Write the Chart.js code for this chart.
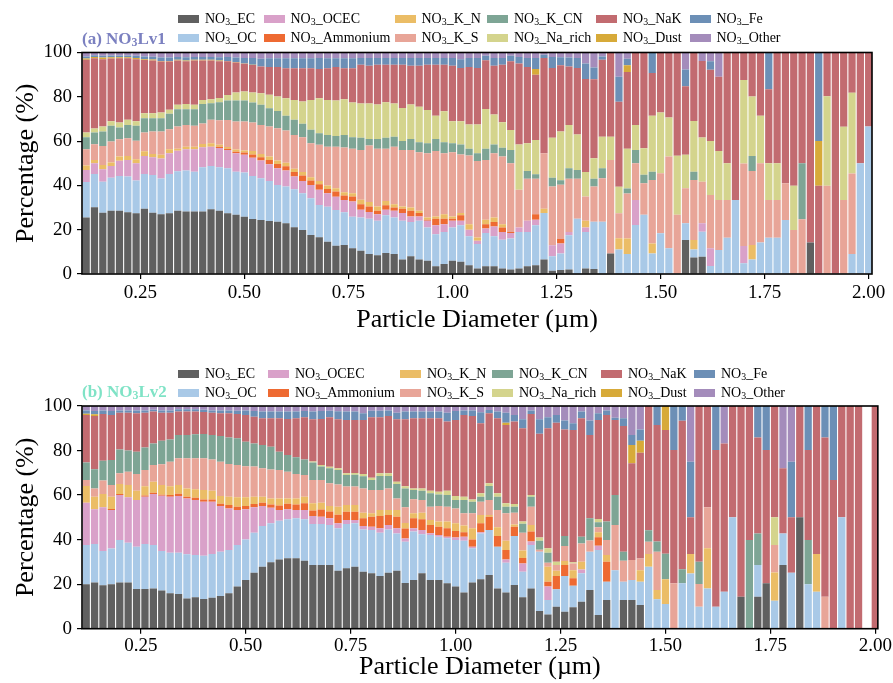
<!DOCTYPE html>
<html><head><meta charset="utf-8">
<script src="https://cdn.jsdelivr.net/npm/chart.js@4.4.1/dist/chart.umd.min.js"></script>
<style>
body{margin:0;background:#fff;width:893px;height:683px;overflow:hidden;position:relative;font-family:"Liberation Serif","Times New Roman",serif;}
canvas{position:absolute;left:0;}
.lt{position:absolute;font-size:14px;line-height:16px;white-space:nowrap;color:#000;}
.pt{position:absolute;width:21px;height:8px;}
.ttl{position:absolute;font-weight:bold;font-size:17px;line-height:20px;white-space:nowrap;}
sub{font-size:0.7em;vertical-align:-0.2em;line-height:0;}
</style></head><body>
<canvas id="c1" width="893" height="340" style="top:0"></canvas>
<canvas id="c2" width="893" height="343" style="top:340px"></canvas>
<div id="overlay"></div>
<script>
// ---------------- data ----------------
const diameters = [0.12,0.14,0.16,0.18,0.20,0.22,0.24,0.26,0.28,0.30,
0.32,0.34,0.36,0.38,0.40,0.42,0.44,0.46,0.48,0.50,
0.52,0.54,0.56,0.58,0.60,0.62,0.64,0.66,0.68,0.70,
0.72,0.74,0.76,0.78,0.80,0.82,0.84,0.86,0.88,0.90,
0.92,0.94,0.96,0.98,1.00,1.02,1.04,1.06,1.08,1.10,
1.12,1.14,1.16,1.18,1.20,1.22,1.24,1.26,1.28,1.30,
1.32,1.34,1.36,1.38,1.40,1.42,1.44,1.46,1.48,1.50,
1.52,1.54,1.56,1.58,1.60,1.62,1.64,1.66,1.68,1.70,
1.72,1.74,1.76,1.78,1.80,1.82,1.84,1.86,1.88,1.90,
1.92,1.94,1.96,1.98,2.00];
const xTickLabels = [0.25,0.50,0.75,1.00,1.25,1.50,1.75,2.00];
const yTickLabels = [0,20,40,60,80,100];
const seriesNames = ['EC','OC','OCEC','Ammonium','K_N','K_S','K_CN','Na_rich','NaK','Dust','Fe','Other'];
const seriesColors = ['#606060','#a9c9e7','#d9a1c9','#ee6a32','#ebbd66','#e8a598','#7ea595','#d4d48d','#c26b70','#d7aa39','#6c8fb6','#a48cbb'];

// NO3Lv1
const lv1_EC = [25.5,30.1,27.7,28.5,28.5,27.9,27.4,29.5,27.7,27,27.4,28.6,28.2,28.2,28.2,29.2,28.5,27.4,26.7,25.9,24.8,24.4,23.9,23.6,22.9,21.1,19.9,17.6,16.6,14.6,12.7,13.1,11.6,10.5,9,8.5,9.5,9,6.5,8,6.5,6,3.5,4.5,6,5.5,4,2.5,3.5,3.5,2.5,2,2.5,3.5,4,6.5,1.5,1.8,2,0,2.5,2.3,0,9.3,0,0,0,0,0,0,0,0,15.4,7.5,7.8,0,0,0,0,0,0,0,0,0,0,0,0,14.2,0,0,0,0,0,0,0];
const lv1_OC = [16,15.1,13.9,14.9,15.8,16.1,14.8,15.7,17,16.1,17.8,17.8,18.5,18,20,19.6,19.7,20.3,19.5,19.9,19.5,18.8,18.1,16.6,16.6,17.2,16.5,16.6,14.6,15.8,16.2,14.8,14.3,15,16,15.5,17,16.5,17.5,15.5,17.5,15,14.5,14.5,15,16.5,13,11,15,13.5,13,14,16.5,15.5,18,21,6.5,7.5,15.5,25,16.5,21.3,23.6,0,11.1,9,22.1,26.7,9.3,18.4,11.6,0,7.5,3.6,11.3,3.6,10.8,16.4,33.4,4.8,6.6,14.2,16.4,16.4,24.4,0,0,0,0,0,0,0,9,50,66.6];
const lv1_OCEC = [5.5,4.8,5.7,5.4,6.8,7.5,7.8,8.1,8,9,9.3,9.2,9.6,10.1,9,8.7,8.7,8.3,8.3,8,8.2,8,7.5,7.5,7.2,5.7,5.6,6,6.8,6,6,5.5,6.8,3.5,3,3,2.5,3,3.5,2.5,2,3,4,3.5,3,2,3,1.5,2,4.5,3.5,2.5,2,5,2.5,0,5,4.5,1.5,0,2,0,0,0,0,0,11.3,0,0,0,0,0,0,0,3.8,8,0,0,0,7.8,0,0,0,0,0,0,0,0,0,0,0,0,0,0,0];
const lv1_Ammonium = [0,0,0,0,0,0,0,0,0,0,0,0,0,0,0,0,0.5,0.5,0.7,1,1.5,1.5,2,2,2,2,2.5,2,2.5,2,2.3,2,2.3,2.5,2.5,1.5,2,1.5,2,2.5,1.5,0.5,3,2.5,1,2.5,0,0,2,2,2,0.5,0,0,2.5,0,0,2,0,0,0,0,0,0,0,0,0,0,0,0,0,0,0,0,0,0,0,0,0,0,0,0,0,0,0,0,0,0,0,0,0,0,0,0,0];
const lv1_K_N = [2,1.5,1.9,1.5,1.9,1.8,1.8,2.1,1.5,1.7,1.8,1,1.2,1.2,1.5,1.5,1,0.8,1,1,1.5,1.5,1.5,1.5,1.5,1.5,1.5,1.5,1.5,1.5,1.5,1.5,1.5,2,2,2,2,1.5,1,1.5,1,1,1,2,1,1,2.5,1.5,2,2,1.5,0,0,0,0,2,0,0,0,0,3,0,0,0,5,7,0,0,4.5,0,0,0,0,4.2,0,0,0,0,0,0,6.5,0,0,0,0,0,0,0,0,0,0,0,0,0,0];
const lv1_K_S = [7.3,7.1,8.6,9.5,7.8,8,8.4,8.5,10.1,10.5,9.1,10,9.8,9.4,9.3,10.6,11,12.2,12.6,13,12.9,13.1,13.6,14.6,14.6,15.3,15.7,15.3,16.3,17.6,18.8,20.2,20,22.5,25.5,26,23.5,26,25.5,26,26.5,29,29.5,27.5,29,26.5,31,34.5,27,29,30.5,31,17,19,16,25,26.5,24.5,24,18,11,15.9,19.6,42.2,11.3,20.3,16.6,14.3,28.6,27.1,41.4,26.7,15.8,27.1,18.8,24.1,22.6,17,0,37.3,33.4,35.8,17,17,16.6,19.9,24.7,0,0,39.8,0,33.4,36.4,0,0];
const lv1_K_CN = [5.4,5.3,6.5,7.1,5.3,6,6.7,6.4,6,6,6.9,7.8,7.1,7.5,8.7,7.5,8.1,8.8,9.5,9.5,9,9.1,8.2,7.8,6.6,6.8,6.1,6.1,5.3,5.3,4.8,5.7,5.2,5.5,3,4.5,5,4.5,4,5,4.5,4.5,5.5,5,4,4.5,3,3.5,5,4,4,6,0,3.5,2,0,4,2,4.7,4,0,3.5,4.5,0,0,2.3,6,3.8,3.8,0,0,0,0,3.8,0,0,0,0,0,0,6.8,0,0,0,0,0,25.3,0,0,0,0,0,0,0,0];
const lv1_Na_rich = [2.2,1.8,2.3,2.1,2.3,2.3,2.1,2.3,2.3,2.6,1.8,2,2.4,2,1.9,1.8,2,2.5,3.6,4.1,4.5,5.2,6.1,6.5,8,9,10.1,13.5,15.8,15.8,16,16.1,15.7,15.5,16,15.5,16,15,15,15.5,16,15,10.5,14,10,10.5,11,13,18,13.5,11.5,9,20.5,12.5,15.5,0,18,22,19.6,16,11,9.3,14.3,10.5,12,18,11.3,12,25.2,27.4,17.6,26.7,15.1,22.9,19.9,24.4,22.1,16.6,0,37.7,26.8,21.4,16.6,16.6,0,19.9,0,0,0,40.4,0,33.1,36.4,0,0];
const lv1_NaK = [32.8,31.7,30.4,28.3,29,27.8,28,24,23.8,23,21.8,20,19.3,20,17.8,17.5,16.6,15.2,13.6,12.5,12.5,12.1,12.5,13.3,13.5,14.3,15,14.3,13.1,14.3,15.1,14,15.5,17.5,17,18,17,17.5,19.5,17.5,18.5,20.5,23,21,25,24,26,25.5,22,22,26,31,36.5,34.5,29.5,43,31.5,30,26.4,30,42,35.6,34.7,38,38.4,34.6,32.7,43.2,19.3,27.1,29.4,46.6,31,30.9,34.6,32.1,33.6,50,66.6,12.4,19.9,28.6,33.4,50,59,60.2,50,85.8,39.8,19.8,100,33.5,18.2,50,33.4];
const lv1_Dust = [0.6,0.6,0.7,0.6,0.5,0.5,0.5,0.4,0.4,0.3,0.3,0.3,0.3,0.3,0.3,0.3,0.3,0.2,0.2,0.1,0.1,0,0,0,0,0,0,0,0,0,0,0,0,0,0,0,0,0,0,0,0,0,0,0,0,0,0,0,0,0,0,0,0,0,2.5,0,0,0,0,0,0,0,0,0,0,3,0,0,0,0,0,0,0,0,0,0,0,0,0,0,0,0,0,0,0,0,0,0,20.3,0,0,0,0,0,0];
const lv1_Fe = [0.9,0.8,0.8,0.8,0.8,0.8,1,1.2,1.3,1.5,1.5,1.3,1.5,1.3,1.3,1.3,1.5,1.8,2,2.5,3,3.5,4,4,4.5,4.5,4.5,4.5,5,4.5,4,4.5,4.5,3,3.5,3,3,3,3,3.5,3.5,3,3,3,3.5,4,4,4.5,2,3.5,3,2.5,3,4,5,1.5,5,3.5,4,4.5,7,5.3,1.5,0,11.3,3,0,0,9.3,0,0,0,7.5,0,0,3.8,0,0,0,0,0,0,16.6,0,0,0,0,0,39.9,0,0,0,0,0,0];
const lv1_Other = [1.8,1.2,1.5,1.3,1.3,1.3,1.5,1.8,1.9,2.3,2.3,2,2.1,2,2,2,2.1,2.4,2.3,2.5,2.5,2.8,2.6,2.6,2.6,2.6,2.6,2.6,2.5,2.6,2.6,2.6,2.6,2.5,2.5,2.5,2.5,2.5,2.5,2.5,2.5,2.5,2.5,2.5,2.5,3,2.5,2.5,1.5,2.5,2.5,1.5,2,2.5,2.5,1,2,2.2,2.3,2.5,5,6.8,1.8,0,10.9,2.8,0,0,0,0,0,0,7.7,0,3.8,4,10.9,0,0,0,0,0,0,0,0,0,0,0,0,0,0,0,0,0,0];

// NO3Lv2
const lv2_EC = [20,20.7,19.5,20,20.8,20.8,17.8,17.8,18.1,17.1,15.9,15.6,13.6,14.1,13.3,13.9,14.7,15.9,18.9,21.9,25.1,27.8,29.8,31.1,31.6,31.6,30.5,28.6,28.6,28.6,26,27.1,27.8,25.6,24.9,23.7,25.1,26,20.5,21.9,24.9,21.9,21.9,20.4,18.9,16.2,20.7,22.2,24.1,18.1,16.2,19.6,14.1,18.1,8,6.4,9.9,7.6,9.6,12.1,17.4,6.1,12.9,0,12.9,12.9,10.6,0,0,0,0,0,0,0,0,0,0,0,14.4,0,14.4,20.4,0,28.6,0,50,0,0,0,0,0,0,0,0,0];
const lv2_OC = [17.6,17.3,15.4,16,19,17.8,19,20.2,19.5,17.8,18.2,18.5,19.8,19,19.5,19.6,19.9,19.4,18.7,18.2,18,18.3,17.5,17.4,17.5,18,18.6,18.4,18.4,18,19.1,19.9,19.5,19,19.4,19.4,19.5,16.8,18.5,21.7,17.5,20.2,19.4,20.2,20.9,23.3,15.4,20.6,20.2,18.7,13.4,22,11.5,19.5,26.5,6.5,7.8,16.1,9.7,12.8,17.2,29.2,8.2,26.3,8.2,9,10.5,27.8,13.2,11.1,0,20.4,24.8,9.9,18.1,9.9,16.6,50,0,0,14.2,0,12.6,14.2,25.1,0,20,16.6,0,0,50,0,0,0,0];
const lv2_OCEC = [19,15.6,19.6,17.3,20.2,20.4,21,21.3,22.9,24.8,25.2,25.5,25.1,24.7,24.2,23.5,20.5,18.7,15.7,13.5,11.4,9,7,4.8,4.5,3.7,4.2,3.6,3.3,3,2.2,1.8,1.5,1.5,1.5,2,2,2.3,1.5,1.5,1.9,0.8,0.8,0.7,1.1,1.8,0.7,0.5,0,0,1.5,0,3.7,1.5,0,6,0,0,0,1.7,0,2,0,0,0,0,0,0,0,0,0,0,0,0,0,0,0,0,0,0,0,0,0,0,0,0,0,0,0,0,0,0,0,0,0];
const lv2_Ammonium = [0,0,0,0.5,0.5,0,0,0.5,0.5,0.5,0.7,1,0.7,1,1,1,1,1.5,1.5,1.5,1.5,1.5,1.5,2,2.5,2.5,3,2.5,3.2,3,3.9,3.7,3.7,3.5,4.5,5.5,4.4,5.2,4.5,4.5,4.8,3.7,3.7,3.8,3,2,3.3,4,6,4.8,4.2,4.2,2.5,4.5,0,2.2,6,4.9,3.3,0,0,3.8,9,0,0,0,0,0,0,0,0,0,0,0,0,0,0,0,0,0,0,0,0,0,0,0,0,0,0,0,0,0,0,0,0];
const lv2_K_N = [7.5,5.7,6,5.5,4.5,5.5,4.2,4.2,5,4.3,4,3.9,3.8,3.8,4.3,4,3.5,3.8,4.2,3.9,3.3,2.7,2.7,3.2,2.4,2.7,3,3.2,3.1,2.5,3.6,3,3,2.5,1.5,2.7,2.3,3,2.5,2.2,3,2.2,2.3,3,3.4,3,5,3.7,0.8,3.9,4.2,1,3.3,3,0,6.7,2.3,1.8,3.7,3.5,0,2.2,3,0,0,0,5.2,5.7,4.2,11.1,0,0,8.7,0,18,0,0,0,0,0,0,0,12.6,0,0,0,0,16.9,0,0,0,0,0,0,0];
const lv2_K_S = [2.7,3.7,6,5.2,4.8,6,7.5,7.3,7.5,9.3,11,12,13.5,13.9,14.2,14,15.4,14.6,14.5,14,13.5,12.7,13,12.8,12,11,9.7,10.5,10.2,10.2,10,8.3,8.3,10.9,10.5,9,9.7,5.2,7,6.3,5.7,6,7,6.7,6.7,5.5,6.7,6,6.7,7.8,12.3,5.3,8,8.2,1,1.8,2.6,6.7,3,8.2,5,2.3,6.7,20.3,9.4,9,5.2,5.5,17.2,0,20.4,0,0,10.2,18.4,0,0,0,0,0,0,0,12.4,0,0,0,0,0,14.4,0,0,0,0,0,0];
const lv2_K_CN = [7.8,8.6,8.9,11.2,10.7,9.5,10,10.1,9.7,10.6,10,10.5,10.5,10.8,10.9,11,11.5,12,12,11,10.4,10.5,10.2,8.2,7.5,7.5,7,7.8,6,6.7,6.5,5.2,5.3,5.5,4.5,6.3,5.6,6.5,8.5,4.2,4.2,6,5.2,5.2,3.8,6,5.2,2.3,6.3,6,3,2.7,4,4.5,4,4.5,0,4.5,0,3,10,2.2,8.3,13.4,4,0,0,5.2,4.5,11.4,0,6.3,0,10,0,0,0,0,0,39.8,14.2,0,0,0,0,0,19.8,0,0,0,0,0,0,0,0];
const lv2_Na_rich = [0,0,0,0,0,0,0,0,0,0,0,0,0,0,0,0,0,0,0,0,0,0,0,0,0,0,0,0.5,0.7,0.7,0.8,0.8,0.8,1,1,1.2,1.2,1,1,0.7,1,1.2,1.2,2,1.8,1.5,1,1.5,1.2,1.5,1.5,1.2,1,0.7,1.5,2,1.5,0,0.5,0,0,1.5,0,0,0,0,0,0,0,0,0,0,0,0,0,0,0,0,0,0,0,0,12.4,0,0,0,0,0,0,0,0,0,0,0,0];
const lv2_NaK = [21.4,23.9,21,20.3,16.5,17,17.2,15.6,14.3,12.6,12,10.5,10.5,10.2,9.9,10,10.2,10.8,10.9,12,12,12,12.8,15,16.2,17.5,18.9,18.9,20.7,22.2,22,23.9,23.8,24.2,27.1,25.1,25.7,28,30,31.5,31.5,32.5,33,31,34.1,36.7,37.5,31.4,31.4,33.7,35.2,37,41.9,36.4,46.5,53.9,62.4,47.9,59.4,53.2,37.4,44.4,47.9,33.7,56.5,43.4,47.5,55.8,52.4,55.6,59.8,66.7,16.5,69.9,45.5,70.3,66.6,50,85.6,60.2,43.1,59.8,50,29.2,24.9,50,40.4,66.5,71.5,66.8,50,100,100,0,100];
const lv2_Dust = [0.5,0.8,0,0,0,0,0,0,0,0,0,0,0,0,0,0,0,0,0,0,0,0,0,0,0,0,0,0,0,0,0,0,0,0,0,0,0,0,0,0,0,0,0,0,0,0,0,0,0,0,1,0,0,0,0,0,0,0,0,0,0,0,0,0,0,8.2,5.4,0,0,10.8,0,0,0,0,0,0,0,0,0,0,0,0,0,0,0,0,0,0,0,0,0,0,0,0,0];
const lv2_Fe = [1.5,1.5,1.6,1.8,1,1,1.3,1,0.8,1,1,1,1,1,1,1,1.3,1.3,1.5,2,2.5,3,3,3,3.3,3,2.8,3.5,3.5,3,3.5,3.8,3.8,3,3,3,2.5,3,3.5,3,3,3,3,4,4,2,2.5,5,1.5,3,4.5,3,4,1.6,6.5,5,3.5,4,3,3,6.5,3,2,1,3.5,4.5,5.1,0,8.5,0,19.8,6.6,25,0,0,19.8,0,0,0,0,14.1,19.8,0,0,25,0,19.8,0,14.1,33.2,0,0,0,0,0];
const lv2_Other = [2,2.2,2,2.2,2,2,2,2,1.7,2,2,1.5,1.5,1.5,1.7,2,2,2,2.1,2,2.3,2.5,2.5,2.5,2.5,2.5,2.3,2.5,2.5,2.1,2.4,2.5,2.5,3.3,2.1,2.1,2,3,2.5,2.5,2.5,2.5,2.5,3,2.3,2,2,2.8,1.8,2.5,3,4,6,2,6,5,4,6.5,7.8,2.5,6.5,3.3,2,5.3,5.5,13,10.5,0,0,0,0,0,25,0,0,0,16.8,0,0,0,0,0,0,28,25,0,0,0,0,0,0,0,0,0,0];

const lv1Series = [lv1_EC,lv1_OC,lv1_OCEC,lv1_Ammonium,lv1_K_N,lv1_K_S,lv1_K_CN,lv1_Na_rich,lv1_NaK,lv1_Dust,lv1_Fe,lv1_Other];
const lv2Series = [lv2_EC,lv2_OC,lv2_OCEC,lv2_Ammonium,lv2_K_N,lv2_K_S,lv2_K_CN,lv2_Na_rich,lv2_NaK,lv2_Dust,lv2_Fe,lv2_Other];

// ---------------- drawing ----------------
const FF = '"Liberation Serif","Times New Roman",serif';
const framePlugin = {id:'frame', afterDraw(c){
  const a=c.chartArea, ctx=c.ctx; ctx.save(); ctx.strokeStyle='#000'; ctx.lineWidth=1.6;
  ctx.strokeRect(a.left, a.top, a.right-a.left, a.bottom-a.top); ctx.restore();}};

function makeChart(id, S, o){
  const datasets = seriesNames.map((n,i)=>({
    label:'NO3_'+n,
    data: diameters.map((d,j)=>({x:d, y:S[i][j]})),
    backgroundColor: seriesColors[i], borderWidth:0,
    barPercentage:1, categoryPercentage:0.87
  }));
  return new Chart(document.getElementById(id),{
    type:'bar', data:{datasets},
    options:{
      responsive:false, animation:false, devicePixelRatio:1,
      layout:{padding:{top:o.top,right:o.right,left:0,bottom:0}},
      plugins:{legend:{display:false},tooltip:{enabled:false},title:{display:false}},
      scales:{
        x:{type:'linear',stacked:true,min:0.11,max:o.xmax,offset:false,
          afterFit:s=>{s.height=o.xh;},
          afterBuildTicks:s=>{s.ticks=xTickLabels.map(v=>({value:v}));},
          ticks:{font:{family:FF,size:19},color:'#000',padding:o.tp,maxRotation:0,autoSkip:false,callback:v=>Number(v).toFixed(2)},
          grid:{display:true,drawOnChartArea:false,drawTicks:true,tickLength:5,color:'#000',lineWidth:1.2,offset:false},
          border:{display:false},
          title:{display:true,text:'Particle Diameter (µm)',font:{family:FF,size:26},color:'#000',padding:{top:0,bottom:o.tpb}}
        },
        y:{stacked:true,min:0,max:100,
          afterFit:s=>{s.width=82;},
          afterBuildTicks:s=>{s.ticks=yTickLabels.map(v=>({value:v}));},
          ticks:{font:{family:FF,size:19},color:'#000',padding:5},
          grid:{display:true,drawOnChartArea:false,drawTicks:true,tickLength:5,color:'#000',lineWidth:1.2},
          border:{display:false},
          title:{display:true,text:'Percentage (%)',font:{family:FF,size:26},color:'#000',padding:{top:11,bottom:0}}
        }
      }
    },
    plugins:[framePlugin]
  });
}
makeChart('c1', lv1Series, {top:52.5,right:21,xmax:2.008,xh:66,tpb:4,tp:3});
makeChart('c2', lv2Series, {top:66,right:15,xmax:2.006,xh:54.3,tpb:0,tp:1});

// legends + panel titles (HTML text)
const ov = document.getElementById('overlay');
function addLegend(cols, rows){
  seriesNames.forEach((n,i)=>{
    const c=Math.floor(i/2), r=i%2;
    const p=document.createElement('div'); p.className='pt';
    p.style.left=cols[c]+'px'; p.style.top=(rows[r]-4)+'px'; p.style.background=seriesColors[i];
    ov.appendChild(p);
    const t=document.createElement('div'); t.className='lt';
    t.style.left=(cols[c]+27)+'px'; t.style.top=(rows[r]-8)+'px';
    t.innerHTML='NO<sub>3</sub>_'+n; ov.appendChild(t);
  });
}
addLegend([178,263.5,394.5,487,596,689.5],[19.2,38.3]);
addLegend([178,268,400,492,601,694],[373.5,392.5]);
function addTitle(txt,x,y,color){
  const d=document.createElement('div'); d.className='ttl'; d.style.left=x+'px'; d.style.top=(y-10)+'px';
  d.style.color=color; d.innerHTML=txt; ov.appendChild(d);
}
addTitle('(a) NO<sub>3</sub>Lv1',82,39,'#7b80c0');
addTitle('(b) NO<sub>3</sub>Lv2',82,392,'#7fe3c6');
</script>
</body></html>
